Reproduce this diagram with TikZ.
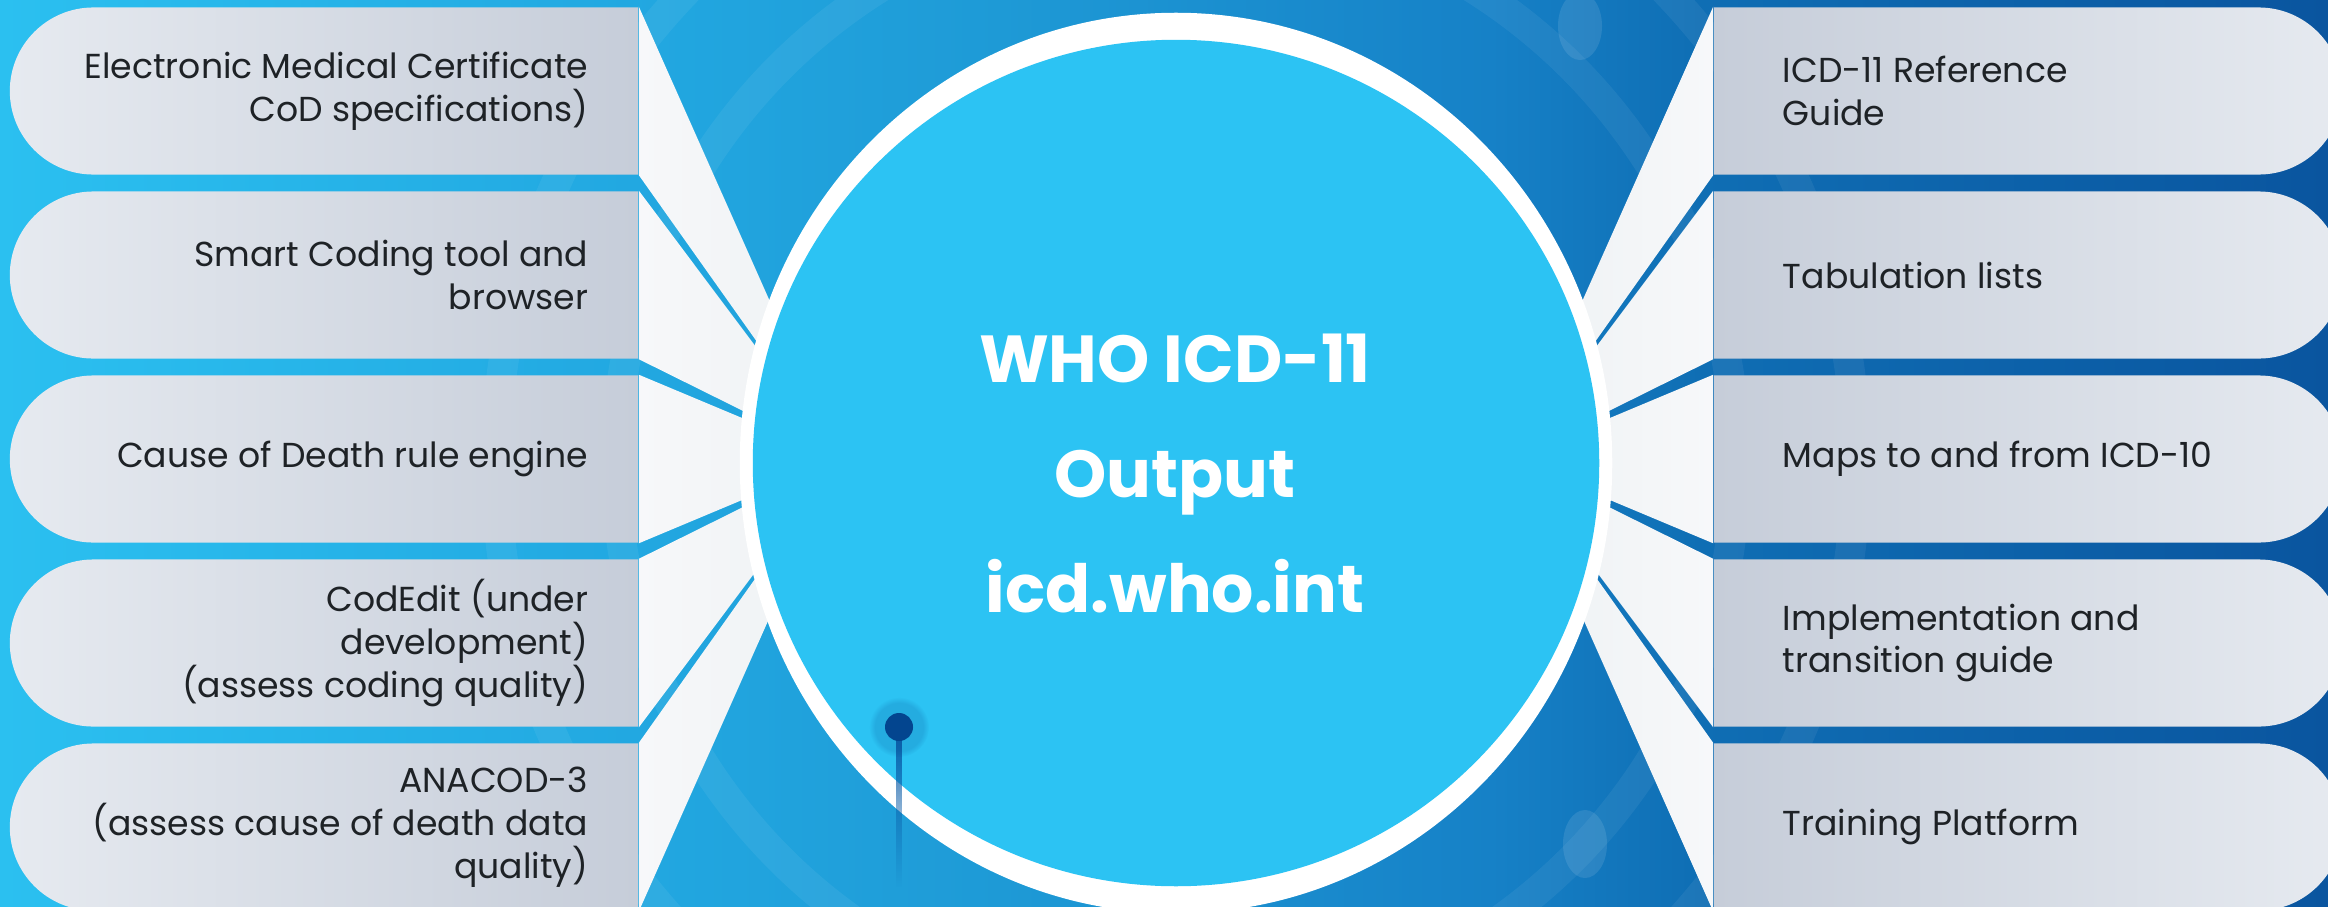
\documentclass[tikz,border=0pt]{standalone}
\usepackage{fontspec}
\setmainfont{Poppins}
\usepackage{tikz}
\usetikzlibrary{positioning,shapes.misc,shapes.geometric,fadings}

\definecolor{bgA}{HTML}{2BC0F0}
\definecolor{bgB}{HTML}{22A8E1}
\definecolor{bgC}{HTML}{1E9AD6}
\definecolor{bgD}{HTML}{1681C7}
\definecolor{bgE}{HTML}{0F6EB4}
\definecolor{bgF}{HTML}{0A559F}
\definecolor{pillLight}{HTML}{E6EAF0}
\definecolor{pillDark}{HTML}{C6CDD9}
\definecolor{wedgeA}{HTML}{F7F8FA}
\definecolor{wedgeB}{HTML}{EDF1F3}
\definecolor{ink}{HTML}{1E2226}
\definecolor{hubCyan}{HTML}{2CC3F3}
\definecolor{pinBlue}{HTML}{03458F}
\definecolor{pinLine}{HTML}{0B5CA8}

\pgfdeclarehorizontalshading{bgshade}{100bp}{color(0bp)=(bgA); color(25bp)=(bgA);
  color(38.5bp)=(bgB); color(46.5bp)=(bgC); color(57bp)=(bgD); color(61.5bp)=(bgE);
  color(75bp)=(bgF); color(100bp)=(bgF)}
\tikzfading[name=pinfade, top color=transparent!0, bottom color=transparent!100]

\newcommand{\pillfont}{\fontsize{9.85}{12.2}\selectfont}
\newcommand{\hubfont}{\fontsize{18.9}{32.7}\selectfont\bfseries}

\begin{document}
\begin{tikzpicture}[x=0.01cm,y=-0.01cm,
  lpill/.style={rounded rectangle,rounded rectangle right arc=none,
    minimum width=6.28cm,minimum height=1.67cm,inner sep=0pt,
    left color=pillLight,right color=pillDark},
  rpill/.style={rounded rectangle,rounded rectangle left arc=none,
    minimum width=6.28cm,minimum height=1.67cm,inner sep=0pt,
    left color=pillDark,right color=pillLight},
  ltext/.style={align=right,inner sep=0pt,text=ink,font=\pillfont},
  rtext/.style={align=left,inner sep=0pt,text=ink,font=\pillfont},
  lwedge/.style={left color=wedgeA,right color=wedgeB},
  rwedge/.style={left color=wedgeB,right color=wedgeA},
  hubring/.style={ellipse,fill=white,minimum width=8.72cm,
    minimum height=9cm,inner sep=0pt},
  hubcore/.style={circle,fill=hubCyan,minimum size=8.46cm,inner sep=0pt},
  hubtext/.style={align=center,text=white,font=\hubfont,inner sep=0pt},
  pinhead/.style={circle,fill=pinBlue,minimum size=0.28cm,inner sep=0pt}]

  \useasboundingbox (0,0) rectangle (2328,906);
  \clip (0,0) rectangle (2328,906);

  % background
  \shade[shading=bgshade] (0,0) rectangle (2328,906);
  \begin{scope}[white,opacity=0.06,line width=0.3cm]
    \draw (1176,463) circle (560);
    \draw (1176,463) circle (680);
  \end{scope}
  \fill[white,opacity=0.1] (1580,26) ellipse (22 and 34);
  \fill[white,opacity=0.1] (1585,844) ellipse (22 and 34);

  % left side
  \node[lpill] (l1) at (324,91) {};
  \node[lpill] (l2) at (324,275) {};
  \node[lpill] (l3) at (324,459) {};
  \node[lpill] (l4) at (324,643) {};
  \node[lpill] (l5) at (324,827) {};

  \node[ltext,left=0.5cm of l1.east] (tl1) {Electronic Medical Certificate\\CoD specifications)};
  \node[ltext,left=0.5cm of l2.east] (tl2) {Smart Coding tool and\\browser};
  \node[ltext,left=0.5cm of l3.east] (tl3) {Cause of Death rule engine};
  \node[ltext,left=0.5cm of l4.east] (tl4) {CodEdit (under\\development)\\(assess coding quality)};
  \node[ltext,left=0.5cm of l5.east] (tl5) {ANACOD-3\\(assess cause of death data\\quality)};

  % right side
  \node[rpill] (r1) at (2028,91) {};
  \node[rpill] (r2) at (2028,275) {};
  \node[rpill] (r3) at (2028,459) {};
  \node[rpill] (r4) at (2028,643) {};
  \node[rpill] (r5) at (2028,827) {};

  \node[rtext,right=0.69cm of r1.west] (tr1) {ICD-11 Reference\\Guide};
  \node[rtext,right=0.69cm of r2.west] (tr2) {Tabulation lists};
  \node[rtext,right=0.69cm of r3.west] (tr3) {Maps to and from ICD-10};
  \node[rtext,right=0.69cm of r4.west] (tr4) {Implementation and\\transition guide};
  \node[rtext,right=0.69cm of r5.west] (tr5) {Training Platform};

  % wedges into the hub
  \coordinate (fl) at (840,459);
  \coordinate (fr) at (1512,459);
  \shade[lwedge] (l1.north east) -- (l1.south east) -- (fl) -- cycle;
  \shade[lwedge] (l2.north east) -- (l2.south east) -- (fl) -- cycle;
  \shade[lwedge] (l3.north east) -- (l3.south east) -- (fl) -- cycle;
  \shade[lwedge] (l4.north east) -- (l4.south east) -- (fl) -- cycle;
  \shade[lwedge] (l5.north east) -- (l5.south east) -- (fl) -- cycle;
  \shade[rwedge] (r1.north west) -- (r1.south west) -- (fr) -- cycle;
  \shade[rwedge] (r2.north west) -- (r2.south west) -- (fr) -- cycle;
  \shade[rwedge] (r3.north west) -- (r3.south west) -- (fr) -- cycle;
  \shade[rwedge] (r4.north west) -- (r4.south west) -- (fr) -- cycle;
  \shade[rwedge] (r5.north west) -- (r5.south west) -- (fr) -- cycle;

  % hub
  \node[hubring] (hub) at (1176,463) {};
  \node[hubcore] (core) at (hub.center) {};
  \node[hubtext] (title) at (1175,473) {WHO ICD-11\\Output\\icd.who.int};

  % pin
  \coordinate (pin) at (899,727);
  \coordinate (pinend) at (899,887);
  \fill[pinLine,path fading=pinfade] ([xshift=-0.03cm]pin) rectangle ([xshift=0.03cm]pinend);
  \fill[pinBlue,opacity=0.18,path fading=circle with fuzzy edge 20 percent] (pin) circle (30);
  \node[pinhead] (head) at (pin) {};

\end{tikzpicture}
\end{document}
